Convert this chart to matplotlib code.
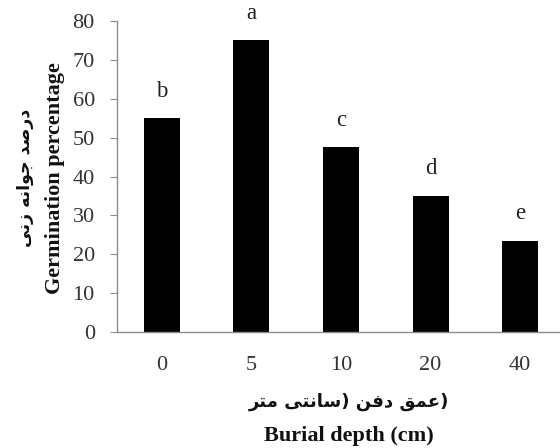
import matplotlib
matplotlib.use('Agg')
import matplotlib.pyplot as plt

# burial depth categories and germination means
depths = ['0', '5', '10', '20', '40']
germination = [55, 75, 47.5, 35, 23.5]
letters = ['b', 'a', 'c', 'd', 'e']

# Persian labels written in visual (presentation-form) order,
# since matplotlib does no Arabic shaping / bidi here
# 'درصد جوانه زنی'
y_label_fa = '\ufef0\ufee7\ufeaf \ufeea\ufee7\ufe8d\ufeee\ufe9f \ufeaa\ufebb\ufead\ufea9'
# 'عمق دفن (سانتی متر)' as it shows in the source figure
x_label_fa = ('\ufeae\ufe98\ufee3' + ' ' + '\ufef0\ufe98\ufee7\ufe8e\ufeb3' + ') '
              + '\ufee6\ufed3\ufea9' + ' ' + '\ufed6\ufee4\ufecb' + ')')
y_label_en = 'Germination percentage'
x_label_en = 'Burial depth (cm)'

plt.rcParams['font.family'] = ['Liberation Serif', 'DejaVu Sans']

fig = plt.figure(figsize=(5.6, 4.48), dpi=100)
ax = fig.add_axes([117 / 560, 116 / 448, 448 / 560, 311 / 448])

x = range(len(depths))
ax.bar(x, germination, width=0.4, color='black')
for i, (v, lab) in enumerate(zip(germination, letters)):
    ax.annotate(lab, (i, v), xytext=(0, 12), textcoords='offset points',
                ha='center', va='bottom', fontsize=16.5, color='#222222')

ax.set_xlim(-0.5, 4.5)
ax.set_ylim(0, 80)
ax.set_yticks(range(0, 81, 10))
ax.set_xticks(list(x))
ax.set_xticklabels(depths)

for side in ['top', 'right']:
    ax.spines[side].set_visible(False)
for side in ['left', 'bottom']:
    ax.spines[side].set_color('#8c8c8c')
    ax.spines[side].set_linewidth(1.0)

ax.tick_params(axis='y', direction='out', length=5, width=0.8, color='#8c8c8c',
               pad=11, labelsize=16, labelcolor='#333333')
ax.tick_params(axis='x', length=0, pad=17, labelsize=16, labelcolor='#333333')

# y-axis titles
fig.text(55 / 560, 1 - 178 / 448, y_label_en, rotation=90, ha='center', va='center',
         fontsize=16, fontweight='bold', color='#111111')
fig.text(25 / 560, 1 - 178 / 448, y_label_fa, rotation=90, ha='center', va='center',
         fontsize=12.5, fontweight='bold', family=['DejaVu Sans'], color='#111111')

# x-axis titles
fig.text(349 / 560, 1 - 402 / 448, x_label_fa, ha='center', va='center',
         fontsize=13, fontweight='bold', family=['DejaVu Sans'], color='#111111')
fig.text(349 / 560, 1 - 436 / 448, x_label_en, ha='center', va='center',
         fontsize=16, fontweight='bold', color='#111111')

fig.savefig('out.png', dpi=100)
